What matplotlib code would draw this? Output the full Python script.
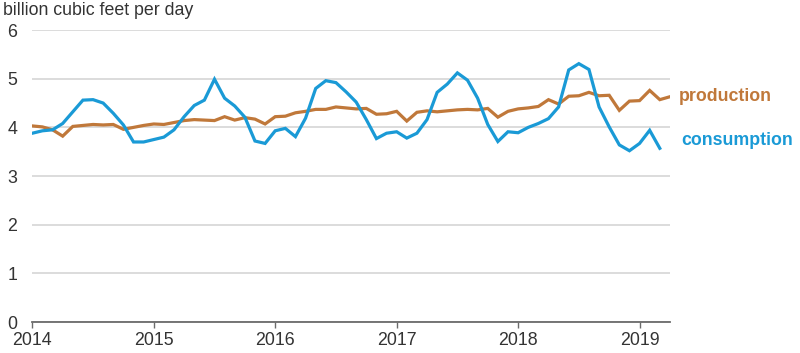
import numpy as np
import matplotlib
matplotlib.use("Agg")
import matplotlib.pyplot as plt

plt.rcParams["font.family"] = ["Liberation Sans", "DejaVu Sans"]

# =========================
# DATA (monthly, Jan 2014 onward)
# =========================
consumption = [
    3.88, 3.93, 3.95, 4.08, 4.32, 4.56, 4.57, 4.50, 4.29, 4.05, 3.70, 3.70,   # 2014
    3.75, 3.80, 3.95, 4.22, 4.45, 4.56, 4.99, 4.60, 4.44, 4.21, 3.72, 3.67,   # 2015
    3.93, 3.98, 3.81, 4.19, 4.80, 4.96, 4.92, 4.73, 4.52, 4.16, 3.77, 3.88,   # 2016
    3.91, 3.78, 3.88, 4.16, 4.72, 4.89, 5.12, 4.97, 4.60, 4.06, 3.71, 3.91,   # 2017
    3.89, 4.00, 4.08, 4.18, 4.42, 5.18, 5.31, 5.19, 4.42, 4.01, 3.64, 3.52,   # 2018
    3.67, 3.94, 3.57,                                                         # 2019
]
production = [
    4.03, 4.01, 3.95, 3.82, 4.02, 4.04, 4.06, 4.05, 4.06, 3.96, 4.00, 4.04,   # 2014
    4.07, 4.06, 4.10, 4.14, 4.16, 4.15, 4.14, 4.22, 4.15, 4.20, 4.17, 4.07,   # 2015
    4.22, 4.23, 4.30, 4.33, 4.37, 4.37, 4.42, 4.40, 4.38, 4.39, 4.27, 4.28,   # 2016
    4.33, 4.13, 4.31, 4.34, 4.32, 4.34, 4.36, 4.37, 4.36, 4.39, 4.21, 4.33,   # 2017
    4.38, 4.40, 4.43, 4.57, 4.48, 4.64, 4.65, 4.72, 4.65, 4.66, 4.35, 4.54,   # 2018
    4.55, 4.76, 4.57, 4.63,                                                   # 2019
]
start_year = 2014
year_ticks = [2014, 2015, 2016, 2017, 2018, 2019]
y_ticks = [0, 1, 2, 3, 4, 5, 6]

x_cons = start_year + np.arange(len(consumption)) / 12
x_prod = start_year + np.arange(len(production)) / 12

BLUE = "#1a9ad6"
ORANGE = "#c0783a"
FS = 12.8

# =========================
# PLOT
# =========================
fig = plt.figure(figsize=(8, 3.53), dpi=100)
ax = fig.add_axes([0.0404, 0.0878, 0.797, 0.827])

ax.plot(x_prod, production, color=ORANGE, lw=2.3, solid_joinstyle="miter")
ax.plot(x_cons, consumption, color=BLUE, lw=2.3, solid_joinstyle="miter")

ax.set_xlim(2014, 2019.25)
ax.set_ylim(0, 6)
ax.set_xticks(year_ticks)
ax.set_xticklabels([str(y) for y in year_ticks])
ax.set_yticks(y_ticks)

ax.grid(axis="y", color="#d9d9d9", lw=1.3)
ax.set_axisbelow(True)
for s in ["top", "right", "left"]:
    ax.spines[s].set_visible(False)
ax.spines["bottom"].set_color("#6b6b6b")
ax.spines["bottom"].set_linewidth(1.3)

ax.tick_params(axis="y", length=0, pad=11, labelsize=FS, labelcolor="#333333")
ax.tick_params(axis="x", length=4, width=1, color="#6b6b6b", pad=3,
               labelsize=FS, labelcolor="#333333")

fig.text(0.004, 0.995, "billion cubic feet per day", ha="left", va="top",
         fontsize=FS, color="#333333")

ax.text(1.0135, 4.64, "production", transform=ax.get_yaxis_transform(),
        ha="left", va="center", fontsize=FS, fontweight="bold", color=ORANGE)
ax.text(1.0175, 3.74, "consumption", transform=ax.get_yaxis_transform(),
        ha="left", va="center", fontsize=FS, fontweight="bold", color=BLUE)

fig.savefig("out.png", dpi=100)
